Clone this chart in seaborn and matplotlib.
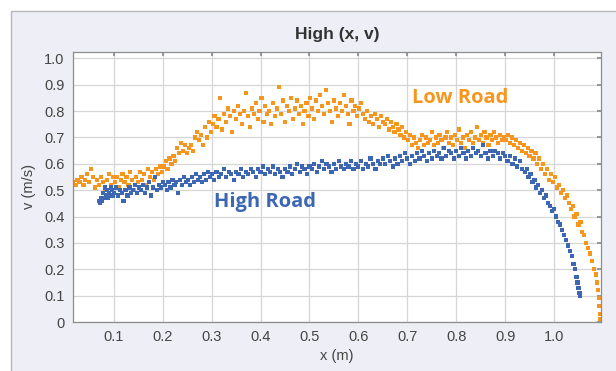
import pandas as pd
import seaborn as sns
import matplotlib.pyplot as plt
from matplotlib.patches import Rectangle

# Low Road (orange) - x in m, v in m/s
low_x = [0.017, 0.022, 0.026, 0.030, 0.034, 0.038, 0.042, 0.046, 0.050, 0.054,
         0.058, 0.062, 0.066, 0.070, 0.074, 0.078, 0.082, 0.086, 0.090, 0.094,
         0.098, 0.102, 0.106, 0.110, 0.114, 0.118, 0.122, 0.126, 0.130, 0.134,
         0.138, 0.142, 0.146, 0.150, 0.154, 0.158, 0.162, 0.166, 0.170, 0.174,
         0.178, 0.182, 0.186, 0.190, 0.194, 0.198, 0.202, 0.206, 0.210, 0.214,
         0.218, 0.222, 0.226, 0.230, 0.234, 0.238, 0.242, 0.246, 0.250, 0.254,
         0.258, 0.262, 0.266, 0.270, 0.274, 0.278, 0.282, 0.286, 0.290, 0.294,
         0.298, 0.302, 0.306, 0.310, 0.314, 0.318, 0.322, 0.326, 0.330, 0.334,
         0.338, 0.342, 0.346, 0.350, 0.354, 0.358, 0.362, 0.366, 0.370, 0.374,
         0.378, 0.382, 0.386, 0.390, 0.394, 0.398, 0.402, 0.406, 0.410, 0.414,
         0.418, 0.422, 0.426, 0.430, 0.434, 0.438, 0.442, 0.446, 0.450, 0.454,
         0.458, 0.462, 0.466, 0.470, 0.474, 0.478, 0.482, 0.486, 0.490, 0.494,
         0.498, 0.502, 0.506, 0.510, 0.514, 0.518, 0.522, 0.526, 0.530, 0.534,
         0.538, 0.542, 0.546, 0.550, 0.554, 0.558, 0.562, 0.566, 0.570, 0.574,
         0.578, 0.582, 0.586, 0.590, 0.594, 0.598, 0.602, 0.606, 0.610, 0.614,
         0.618, 0.622, 0.626, 0.630, 0.634, 0.638, 0.642, 0.646, 0.650, 0.654,
         0.658, 0.662, 0.666, 0.670, 0.674, 0.678, 0.682, 0.686, 0.690, 0.694,
         0.698, 0.702, 0.706, 0.710, 0.714, 0.718, 0.722, 0.726, 0.730, 0.734,
         0.738, 0.742, 0.746, 0.750, 0.754, 0.758, 0.762, 0.766, 0.770, 0.774,
         0.778, 0.782, 0.786, 0.790, 0.794, 0.798, 0.802, 0.806, 0.810, 0.814,
         0.818, 0.822, 0.826, 0.830, 0.834, 0.838, 0.842, 0.846, 0.850, 0.854,
         0.858, 0.862, 0.866, 0.870, 0.874, 0.878, 0.882, 0.886, 0.890, 0.894,
         0.898, 0.902, 0.906, 0.910, 0.914, 0.918, 0.922, 0.926, 0.930, 0.934,
         0.938, 0.942, 0.946, 0.950, 0.954, 0.958, 0.962, 0.966, 0.970, 0.974,
         0.978, 0.982, 0.986, 0.990, 0.994, 0.998, 1.002, 1.006, 1.010, 1.014,
         1.018, 1.022, 1.026, 1.030, 1.034, 1.038, 1.042, 1.046, 1.050, 1.054,
         1.058, 1.062, 1.066, 1.070, 1.074, 1.078, 1.082, 1.085, 1.088, 1.090,
         1.092, 1.093, 1.094, 1.095]
low_v = [0.53, 0.52, 0.54, 0.53, 0.55, 0.52, 0.54, 0.56, 0.53, 0.58,
         0.55, 0.51, 0.54, 0.52, 0.55, 0.53, 0.50, 0.54, 0.56, 0.52,
         0.55, 0.53, 0.55, 0.51, 0.54, 0.56, 0.53, 0.55, 0.52, 0.57,
         0.54, 0.50, 0.55, 0.53, 0.57, 0.54, 0.56, 0.52, 0.58, 0.55,
         0.57, 0.54, 0.58, 0.56, 0.59, 0.57, 0.59, 0.61, 0.58, 0.62,
         0.60, 0.63, 0.61, 0.66, 0.64, 0.68, 0.65, 0.67, 0.64, 0.66,
         0.67, 0.65, 0.70, 0.72, 0.69, 0.71, 0.67, 0.74, 0.70, 0.76,
         0.72, 0.75, 0.78, 0.74, 0.77, 0.85, 0.73, 0.79, 0.76, 0.81,
         0.78, 0.72, 0.80, 0.77, 0.82, 0.79, 0.75, 0.80, 0.87, 0.78,
         0.74, 0.81, 0.79, 0.83, 0.77, 0.80, 0.85, 0.76, 0.82, 0.79,
         0.80, 0.75, 0.83, 0.78, 0.81, 0.89, 0.79, 0.84, 0.76, 0.82,
         0.80, 0.85, 0.77, 0.81, 0.84, 0.79, 0.82, 0.75, 0.80, 0.83,
         0.78, 0.85, 0.81, 0.77, 0.84, 0.80, 0.86, 0.82, 0.79, 0.88,
         0.83, 0.80, 0.76, 0.84, 0.81, 0.78, 0.83, 0.80, 0.86, 0.82,
         0.79, 0.75, 0.84, 0.80, 0.82, 0.78, 0.81, 0.83, 0.79, 0.77,
         0.80, 0.76, 0.78, 0.75, 0.79, 0.77, 0.74, 0.78, 0.76, 0.75,
         0.77, 0.73, 0.76, 0.74, 0.72, 0.75, 0.73, 0.71, 0.74, 0.70,
         0.72, 0.69, 0.71, 0.67, 0.70, 0.68, 0.66, 0.69, 0.71, 0.67,
         0.70, 0.68, 0.69, 0.72, 0.67, 0.70, 0.68, 0.71, 0.69, 0.66,
         0.70, 0.72, 0.68, 0.70, 0.67, 0.71, 0.69, 0.73, 0.68, 0.70,
         0.66, 0.71, 0.69, 0.72, 0.68, 0.70, 0.74, 0.69, 0.71, 0.68,
         0.72, 0.70, 0.67, 0.71, 0.69, 0.72, 0.70, 0.68, 0.71, 0.69,
         0.70, 0.69, 0.71, 0.68, 0.70, 0.67, 0.69, 0.66, 0.68, 0.65,
         0.67, 0.64, 0.66, 0.63, 0.65, 0.62, 0.64, 0.60, 0.62, 0.58,
         0.60, 0.56, 0.58, 0.54, 0.56, 0.53, 0.55, 0.51, 0.52, 0.49,
         0.50, 0.47, 0.48, 0.45, 0.43, 0.44, 0.40, 0.41, 0.37, 0.38,
         0.34, 0.33, 0.30, 0.28, 0.26, 0.23, 0.20, 0.18, 0.15, 0.12,
         0.09, 0.06, 0.03, 0.01]

# High Road (blue)
high_x = [0.070, 0.072, 0.074, 0.076, 0.078, 0.080, 0.082, 0.084, 0.086, 0.088,
          0.090, 0.092, 0.094, 0.096, 0.098, 0.100, 0.104, 0.108, 0.112, 0.116,
          0.120, 0.124, 0.128, 0.132, 0.136, 0.140, 0.144, 0.148, 0.152, 0.156,
          0.160, 0.164, 0.168, 0.172, 0.176, 0.180, 0.184, 0.188, 0.192, 0.196,
          0.200, 0.204, 0.208, 0.212, 0.216, 0.220, 0.224, 0.228, 0.232, 0.236,
          0.240, 0.244, 0.248, 0.252, 0.256, 0.260, 0.264, 0.268, 0.272, 0.276,
          0.280, 0.284, 0.288, 0.292, 0.296, 0.300, 0.305, 0.310, 0.315, 0.320,
          0.325, 0.330, 0.335, 0.340, 0.345, 0.350, 0.355, 0.360, 0.365, 0.370,
          0.375, 0.380, 0.385, 0.390, 0.395, 0.400, 0.405, 0.410, 0.415, 0.420,
          0.425, 0.430, 0.435, 0.440, 0.445, 0.450, 0.455, 0.460, 0.465, 0.470,
          0.475, 0.480, 0.485, 0.490, 0.495, 0.500, 0.505, 0.510, 0.515, 0.520,
          0.525, 0.530, 0.535, 0.540, 0.545, 0.550, 0.555, 0.560, 0.565, 0.570,
          0.575, 0.580, 0.585, 0.590, 0.595, 0.600, 0.605, 0.610, 0.615, 0.620,
          0.625, 0.630, 0.635, 0.640, 0.645, 0.650, 0.655, 0.660, 0.665, 0.670,
          0.675, 0.680, 0.685, 0.690, 0.695, 0.700, 0.705, 0.710, 0.715, 0.720,
          0.725, 0.730, 0.735, 0.740, 0.745, 0.750, 0.755, 0.760, 0.765, 0.770,
          0.775, 0.780, 0.785, 0.790, 0.795, 0.800, 0.805, 0.810, 0.815, 0.820,
          0.825, 0.830, 0.835, 0.840, 0.845, 0.850, 0.855, 0.860, 0.865, 0.870,
          0.875, 0.880, 0.885, 0.890, 0.895, 0.900, 0.905, 0.910, 0.915, 0.920,
          0.925, 0.930, 0.935, 0.940, 0.944, 0.948, 0.952, 0.956, 0.960, 0.964,
          0.968, 0.972, 0.976, 0.980, 0.984, 0.988, 0.992, 0.996, 1.000, 1.004,
          1.008, 1.012, 1.016, 1.020, 1.024, 1.028, 1.032, 1.036, 1.040, 1.043,
          1.046, 1.048, 1.050, 1.052, 1.053]
high_v = [0.46, 0.45, 0.47, 0.46, 0.49, 0.47, 0.51, 0.48, 0.50, 0.47,
          0.49, 0.48, 0.51, 0.50, 0.48, 0.49, 0.51, 0.48, 0.50, 0.49,
          0.46, 0.50, 0.48, 0.51, 0.49, 0.50, 0.52, 0.49, 0.51, 0.50,
          0.52, 0.49, 0.51, 0.53, 0.48, 0.51, 0.55, 0.50, 0.52, 0.51,
          0.53, 0.52, 0.50, 0.53, 0.51, 0.54, 0.52, 0.53, 0.49, 0.54,
          0.52, 0.55, 0.53, 0.54, 0.52, 0.55, 0.53, 0.56, 0.54, 0.55,
          0.53, 0.56, 0.54, 0.57, 0.55, 0.56, 0.54, 0.57, 0.55, 0.56,
          0.58, 0.55, 0.57, 0.56, 0.54, 0.57, 0.56, 0.58, 0.55, 0.57,
          0.56, 0.58, 0.57, 0.55, 0.58, 0.57, 0.59, 0.56, 0.58, 0.57,
          0.59, 0.56, 0.58, 0.57, 0.55, 0.58, 0.57, 0.59, 0.56, 0.58,
          0.60, 0.57, 0.59, 0.58, 0.56, 0.59, 0.58, 0.60, 0.57, 0.59,
          0.61, 0.58, 0.60, 0.59, 0.57, 0.60, 0.58, 0.61, 0.59, 0.58,
          0.60, 0.59, 0.61, 0.58, 0.60, 0.59, 0.61, 0.58, 0.60, 0.59,
          0.62, 0.60, 0.58, 0.61, 0.60, 0.62, 0.60, 0.63, 0.61, 0.59,
          0.62, 0.60, 0.63, 0.61, 0.64, 0.62, 0.60, 0.63, 0.61, 0.64,
          0.62, 0.65, 0.63, 0.61, 0.64, 0.62, 0.65, 0.63, 0.64, 0.62,
          0.66, 0.63, 0.65, 0.64, 0.62, 0.65, 0.63, 0.66, 0.64, 0.62,
          0.65, 0.63, 0.66, 0.64, 0.65, 0.63, 0.67, 0.64, 0.62, 0.65,
          0.63, 0.65, 0.64, 0.62, 0.64, 0.63, 0.61, 0.63, 0.60, 0.62,
          0.59, 0.61, 0.58, 0.57, 0.58, 0.55, 0.56, 0.53, 0.54, 0.51,
          0.52, 0.49, 0.50, 0.47, 0.48, 0.45, 0.44, 0.42, 0.43, 0.40,
          0.38, 0.37, 0.35, 0.33, 0.31, 0.29, 0.27, 0.25, 0.22, 0.20,
          0.17, 0.15, 0.13, 0.11, 0.10]

x_ticks = [0.1, 0.2, 0.3, 0.4, 0.5, 0.6, 0.7, 0.8, 0.9, 1.0]
y_ticks = [0, 0.1, 0.2, 0.3, 0.4, 0.5, 0.6, 0.7, 0.8, 0.9, 1.0]
y_labels = ["0", "0.1", "0.2", "0.3", "0.4", "0.5", "0.6", "0.7", "0.8", "0.9", "1.0"]

orange = "#F7961E"
blue = "#3D66B3"

df = pd.concat([
    pd.DataFrame({"x": low_x, "v": low_v, "road": "Low Road"}),
    pd.DataFrame({"x": high_x, "v": high_v, "road": "High Road"}),
])

sns.set_theme(style="whitegrid")
plt.rcParams["font.family"] = ["Liberation Sans", "DejaVu Sans"]

fig = plt.figure(figsize=(6.16, 3.71), dpi=100)
fig.patch.set_facecolor("white")
# lavender panel with the thin grey frame on the left and top
panel = Rectangle((11 / 616, -0.01), 1.0, (371 - 11) / 371 + 0.01,
                  transform=fig.transFigure, facecolor="#EEEEF6",
                  edgecolor="#B8B8B8", linewidth=1.0, zorder=-10)
fig.add_artist(panel)

ax = fig.add_axes([0.118, 0.132, 0.8576, 0.7286])
ax.set_facecolor("white")
ax.set_zorder(1)

sns.scatterplot(data=df, x="x", y="v", hue="road", palette={"Low Road": orange, "High Road": blue},
                marker="s", s=9, linewidth=0, legend=False, ax=ax)

ax.set_xlim(0.016, 1.096)
ax.set_ylim(0, 1.025)
ax.set_xticks(x_ticks)
ax.set_xticklabels([f"{t:.1f}" for t in x_ticks])
ax.set_yticks(y_ticks)
ax.set_yticklabels(y_labels)
ax.grid(True, color="#D6D6D6", linewidth=0.9)
for sp in ax.spines.values():
    sp.set_color("#8C8C8C")
    sp.set_linewidth(0.9)
ax.tick_params(direction="in", length=3, color="#8C8C8C", labelcolor="#444444",
               labelsize=10.5, top=True, right=True, pad=6)

ax.set_xlabel("x (m)", fontsize=10.5, color="#444444", labelpad=3)
ax.set_ylabel("v (m/s)", fontsize=10.5, color="#444444", labelpad=6)
ax.set_title("High (x, v)", fontsize=12.5, fontweight="bold", color="#333333", pad=9)

ax.text(0.808, 0.85, "Low Road", color=orange, fontsize=14.5, fontweight="bold",
        family=["Open Sans", "DejaVu Sans"], ha="center", va="center")
ax.text(0.41, 0.455, "High Road", color=blue, fontsize=14.5, fontweight="bold",
        family=["Open Sans", "DejaVu Sans"], ha="center", va="center")

plt.savefig("out.png", dpi=100)
